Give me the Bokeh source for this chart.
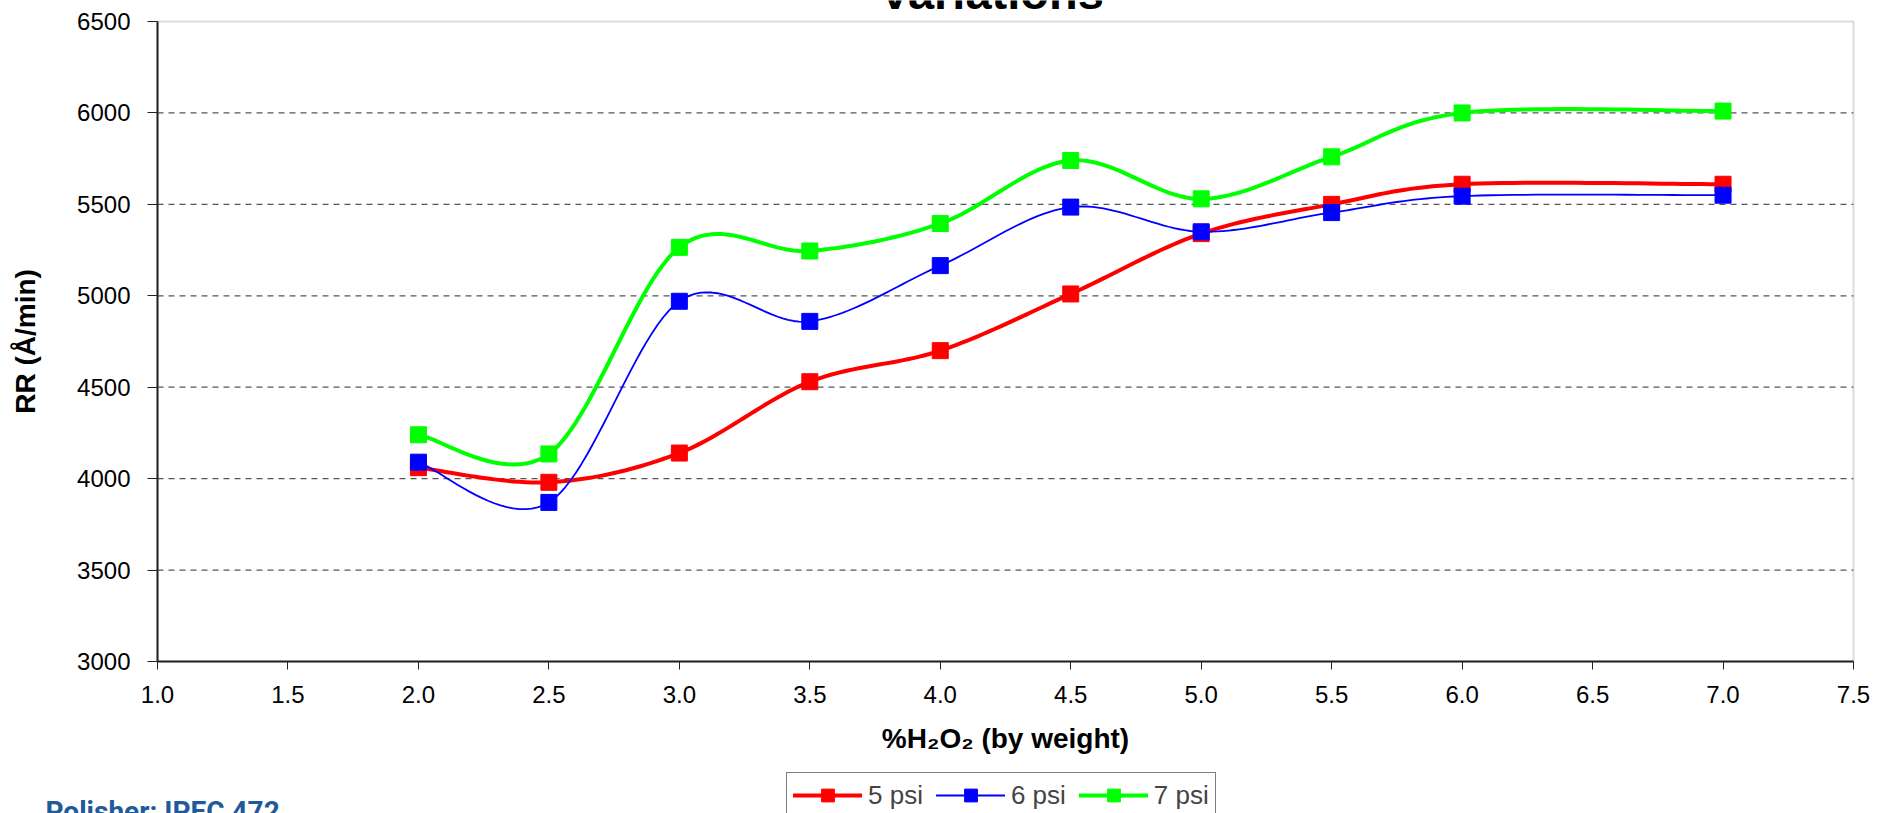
import numpy as np
from bokeh.plotting import figure
from bokeh.models import (Range1d, FixedTicker, NumeralTickFormatter, Legend, LegendItem,
                          Label, BoxAnnotation)
from bokeh.embed import file_html
from bokeh.resources import INLINE

# ---- data ----
h2o2_pct = [2.0, 2.5, 3.0, 3.5, 4.0, 4.5, 5.0, 5.5, 6.0, 7.0]
rr_5psi = [4060, 3980, 4140, 4530, 4700, 5010, 5340, 5500, 5610, 5610]
rr_6psi = [4090, 3870, 4970, 4860, 5165, 5485, 5350, 5455, 5545, 5550]
rr_7psi = [4240, 4135, 5265, 5245, 5395, 5740, 5530, 5760, 6000, 6010]
series_names = ["5 psi", "6 psi", "7 psi"]
x_ticks = [1.0, 1.5, 2.0, 2.5, 3.0, 3.5, 4.0, 4.5, 5.0, 5.5, 6.0, 6.5, 7.0, 7.5]
y_ticks = [3000, 3500, 4000, 4500, 5000, 5500, 6000, 6500]
title_text = "Variations"
x_label = "%H\u2082O\u2082 (by weight)"
y_label = "RR (\u00c5/min)"
note_text = "Polisher: IPEC 472"


def smooth(xs, ys, n=24):
    """Excel-like smoothed line (Catmull-Rom Bezier through the points)."""
    P = np.column_stack([xs, ys]).astype(float)
    out = [P[0]]
    t = np.linspace(0, 1, n + 1)[1:, None]
    for i in range(len(P) - 1):
        p0 = P[i - 1] if i > 0 else P[i]
        p1 = P[i]
        p2 = P[i + 1]
        p3 = P[i + 2] if i + 2 < len(P) else P[i + 1]
        c1 = p1 + (p2 - p0) / 6.0
        c2 = p2 - (p3 - p1) / 6.0
        seg = (1 - t) ** 3 * p1 + 3 * (1 - t) ** 2 * t * c1 + 3 * (1 - t) * t ** 2 * c2 + t ** 3 * p2
        out.extend(seg)
    out = np.array(out)
    return out[:, 0], out[:, 1]


FONT = "Liberation Sans"
W, H = 1896, 813
# plot-area placement inside the canvas (pixels)
PL, PR, PT, PB = 157, 1853, 21, 661
x0, x1 = x_ticks[0], x_ticks[-1]
y0, y1 = y_ticks[0], y_ticks[-1]
xs_per_px = (x1 - x0) / (PR - PL)
ys_per_px = (y1 - y0) / (PB - PT)

# the frame covers the whole canvas; axes are pinned at the plot-area edges
p = figure(width=W, height=H,
           x_range=Range1d(x0 - PL * xs_per_px, x1 + (W - PR) * xs_per_px),
           y_range=Range1d(y0 - (H - PB) * ys_per_px, y1 + PT * ys_per_px),
           output_backend="svg", toolbar_location=None,
           min_border_left=0, min_border_right=0, min_border_top=0, min_border_bottom=0,
           background_fill_color="white", border_fill_color="white")
p.outline_line_color = None
p.xgrid.visible = False
p.ygrid.visible = False

# plot-area border (gray top/right, axes drawn over left/bottom)
p.add_layout(BoxAnnotation(left=x0, right=x1, bottom=y0, top=y1, fill_color=None,
                           line_color="#8c8c8c", line_width=2, level="underlay"))

# dashed horizontal gridlines across the plot area
grid_y = y_ticks[1:-1]
p.segment(x0=[x0] * len(grid_y), x1=[x1] * len(grid_y), y0=grid_y, y1=grid_y,
          line_color="#555555", line_dash="6 5", line_width=1.2, level="underlay")

# axes
p.xaxis.ticker = FixedTicker(ticks=x_ticks)
p.yaxis.ticker = FixedTicker(ticks=y_ticks)
p.xaxis.formatter = NumeralTickFormatter(format="0.0")
p.yaxis.formatter = NumeralTickFormatter(format="0")
p.xaxis.fixed_location = y0
p.yaxis.fixed_location = x0
p.xaxis.bounds = (x0, x1)
p.yaxis.bounds = (y0, y1)
for ax in (p.xaxis[0], p.yaxis[0]):
    ax.axis_line_color = "#222222"
    ax.axis_line_width = 2
    ax.major_tick_line_color = "#222222"
    ax.major_tick_line_width = 1
    ax.minor_tick_line_color = None
    ax.major_tick_in = 0
    ax.major_label_text_font = FONT
    ax.major_label_text_font_size = "24px"
    ax.major_label_text_color = "black"
    ax.axis_label_text_font = FONT
    ax.axis_label_text_font_style = "bold"
    ax.axis_label_text_font_size = "28px"
    ax.axis_label_text_color = "black"

p.xaxis.major_tick_out = 8
p.xaxis.major_label_standoff = 16
p.xaxis.axis_label = x_label
p.xaxis.axis_label_standoff = 17

p.yaxis.major_tick_out = 10
p.yaxis.major_label_standoff = 17
p.yaxis.axis_label = y_label
p.yaxis.axis_label_standoff = 33

# series
colors = ["#ff0000", "#0000ff", "#00ff00"]
widths = [4, 1.8, 4]
items = []
for name, ys, col, w in zip(series_names, [rr_5psi, rr_6psi, rr_7psi], colors, widths):
    sx, sy = smooth(h2o2_pct, ys)
    lr = p.line(sx, sy, line_color=col, line_width=w, line_join="round", line_cap="round")
    sr = p.scatter(h2o2_pct, ys, marker="square", size=16, fill_color=col, line_color=col)
    items.append(LegendItem(label=name, renderers=[lr, sr]))

legend = Legend(items=items, orientation="horizontal", location=(786, -5),
                label_text_font=FONT, label_text_font_size="26px",
                glyph_width=69, glyph_height=32, label_standoff=6, spacing=13,
                padding=6, margin=0,
                border_line_color="black", border_line_width=1,
                background_fill_color="white", background_fill_alpha=1)
p.add_layout(legend)

# title (cut off at the top like the reference) and note
p.add_layout(Label(x=991, y=H + 8, x_units="screen", y_units="screen", text=title_text,
                   text_font=FONT, text_font_style="bold", text_font_size="47px",
                   text_align="center", text_baseline="alphabetic", text_color="black"))
p.add_layout(Label(x=45, y=2, x_units="screen", y_units="screen", text=note_text,
                   text_font="Roboto", text_font_style="bold", text_font_size="28px",
                   text_align="left", text_baseline="alphabetic", text_color="#1f5b99"))

open("out.html", "w").write(file_html(p, INLINE))
